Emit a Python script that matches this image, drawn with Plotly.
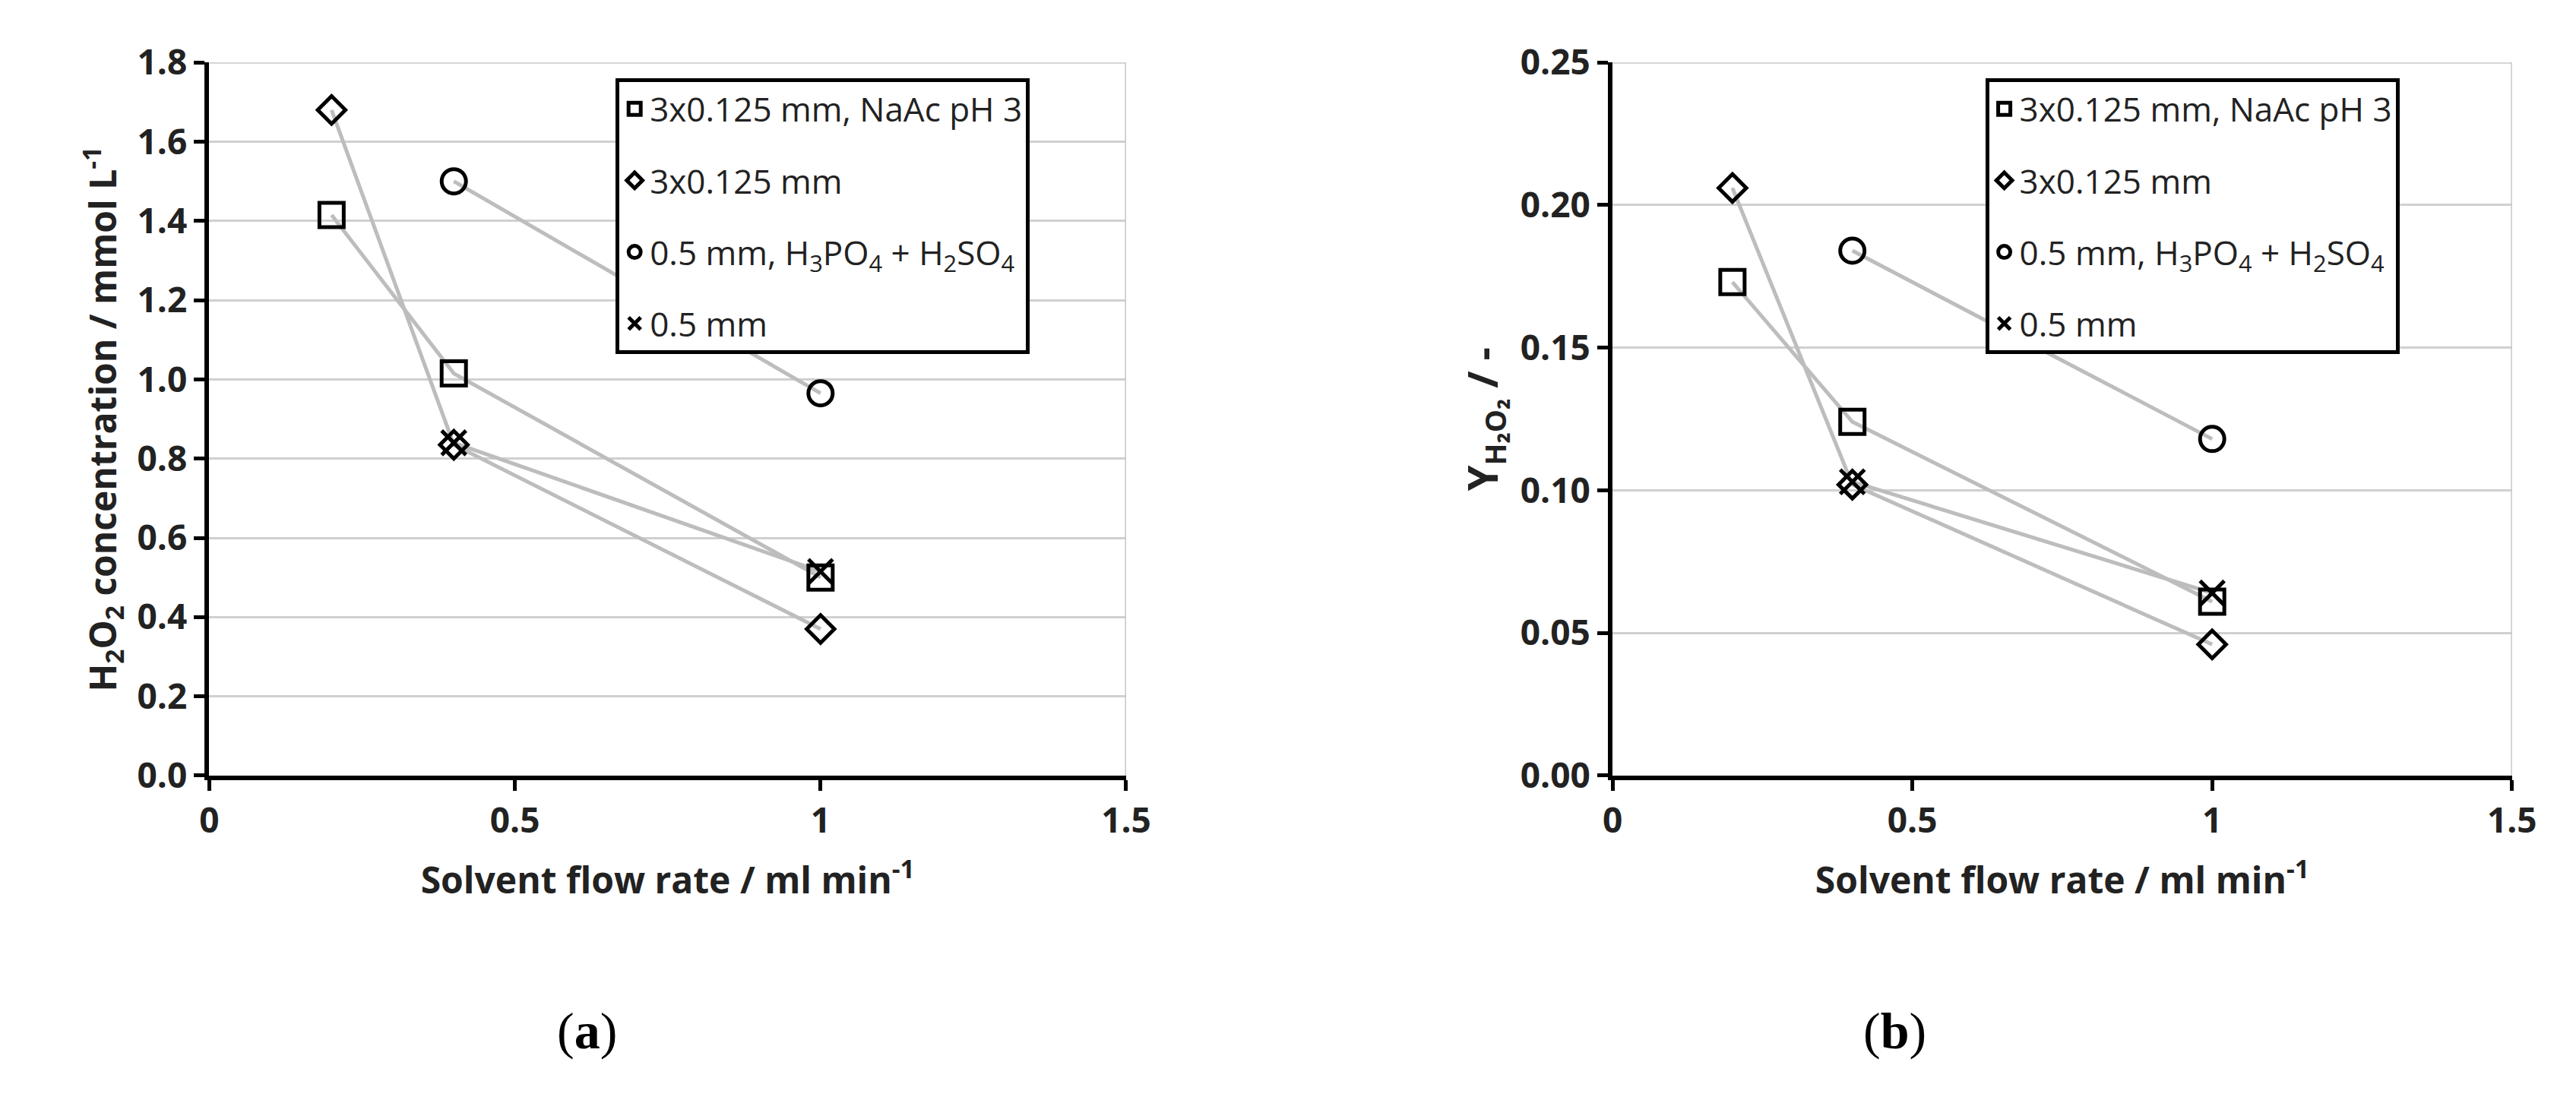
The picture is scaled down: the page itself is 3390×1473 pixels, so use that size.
import plotly.graph_objects as go

x_sq = [0.2, 0.4, 1.0]
x_di = [0.2, 0.4, 1.0]
x_ci = [0.4, 1.0]
x_x = [0.4, 1.0]

a_sq = [1.415, 1.015, 0.50]
a_di = [1.68, 0.835, 0.37]
a_ci = [1.50, 0.965]
a_x = [0.84, 0.515]

b_sq = [0.173, 0.124, 0.061]
b_di = [0.206, 0.102, 0.046]
b_ci = [0.184, 0.118]
b_x = [0.103, 0.064]

names = ["3x0.125 mm, NaAc pH 3", "3x0.125 mm",
         "0.5 mm, H<sub>3</sub>PO<sub>4</sub> + H<sub>2</sub>SO<sub>4</sub>", "0.5 mm"]
symbols = ["square-open", "diamond-open", "circle-open", "x-thin-open"]

FONT = "Open Sans"
fig = go.Figure()

def add_panel(xs, ys, xa, ya, leg):
    for i, (x, y) in enumerate(zip(xs, ys)):
        fig.add_trace(go.Scatter(x=x, y=y, mode="lines", line=dict(color="#bdbdbd", width=5),
                                 xaxis=xa, yaxis=ya, showlegend=False, hoverinfo="skip"))
    for i, (x, y) in enumerate(zip(xs, ys)):
        sz = 32 if i != 1 else 28
        fig.add_trace(go.Scatter(x=x, y=y, mode="markers", name=names[i], legend=leg,
                                 legendgroup=leg + str(i),
                                 marker=dict(symbol=symbols[i], size=sz, color="black",
                                             line=dict(color="black", width=5)),
                                 xaxis=xa, yaxis=ya))

add_panel([x_sq, x_di, x_ci, x_x], [a_sq, a_di, a_ci, a_x], "x", "y", "legend")
add_panel([x_sq, x_di, x_ci, x_x], [b_sq, b_di, b_ci, b_x], "x2", "y2", "legend2")

axcommon = dict(showline=True, linecolor="black", linewidth=6, ticks="outside", ticklen=14,
                tickwidth=5, tickcolor="black", zeroline=False,
                tickfont=dict(family=FONT, size=46, color="#222", weight="bold"))
xcommon = dict(axcommon, range=[0, 1.5], tickvals=[0, 0.5, 1, 1.5], ticktext=["0", "0.5", "1", "1.5"],
               showgrid=False,
               title=dict(text="Solvent flow rate / ml min<sup>-1</sup>",
                          font=dict(family=FONT, size=48, color="#222", weight="bold"), standoff=36))
ydom = [0.3055, 0.9708]
legcommon = dict(bgcolor="white", bordercolor="black", borderwidth=5, tracegroupgap=34,
                 font=dict(family=FONT, size=44, color="#222"), xanchor="left", yanchor="top",
                 itemwidth=30)

fig.update_layout(
    width=3390, height=1473, margin=dict(l=0, r=0, t=0, b=0),
    paper_bgcolor="white", plot_bgcolor="white",
    xaxis=dict(xcommon, domain=[0.0761, 0.4369], anchor="y"),
    yaxis=dict(axcommon, domain=ydom, range=[0, 1.8], dtick=0.2, tickformat=".1f", anchor="x",
               showgrid=True, gridcolor="#d0d0d0", gridwidth=3,
               title=dict(text="H<sub>2</sub>O<sub>2</sub> concentration / mmol L<sup>-1</sup>",
                          font=dict(family=FONT, size=48, color="#222", weight="bold"), standoff=14)),
    xaxis2=dict(xcommon, domain=[0.6283, 0.9823], anchor="y2"),
    yaxis2=dict(axcommon, domain=ydom, range=[0, 0.25], dtick=0.05, tickformat=".2f", anchor="x2",
                showgrid=True, gridcolor="#d0d0d0", gridwidth=3,
                title=dict(text="Y<sub>H₂O₂</sub> / -",
                           font=dict(family=FONT, size=54, color="#222", weight="bold"), standoff=14)),
    legend=dict(legcommon, x=0.236, y=0.956),
    legend2=dict(legcommon, x=0.775, y=0.956),
    shapes=[
        dict(type="line", xref="x", yref="y", x0=1.5, x1=1.5, y0=0, y1=1.8, line=dict(color="#c8c8c8", width=3)),
        dict(type="line", xref="x", yref="y", x0=0, x1=1.5, y0=1.8, y1=1.8, line=dict(color="#c8c8c8", width=3)),
        dict(type="line", xref="x2", yref="y2", x0=1.5, x1=1.5, y0=0, y1=0.25, line=dict(color="#c8c8c8", width=3)),
        dict(type="line", xref="x2", yref="y2", x0=0, x1=1.5, y0=0.25, y1=0.25, line=dict(color="#c8c8c8", width=3)),
    ],
    annotations=[
        dict(text="(<b>a</b>)", xref="paper", yref="paper", x=0.2124, y=0.039, showarrow=False,
             font=dict(family="Liberation Serif", size=68, color="black")),
        dict(text="(<b>b</b>)", xref="paper", yref="paper", x=0.7525, y=0.039, showarrow=False,
             font=dict(family="Liberation Serif", size=68, color="black")),
    ],
)

fig.write_html("out.html")
